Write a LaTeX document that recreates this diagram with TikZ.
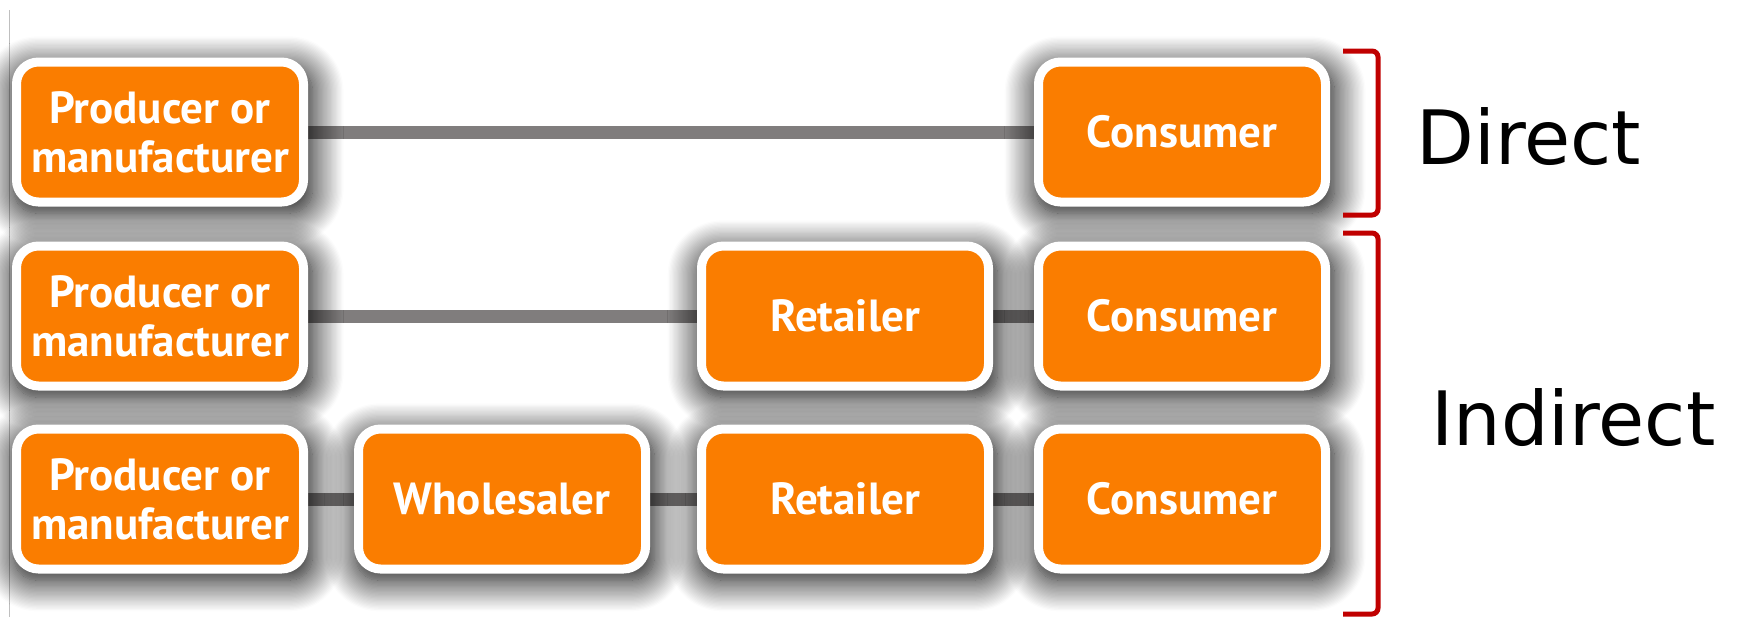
\documentclass[tikz,border=0pt]{standalone}
\usepackage{fontspec}
\newfontfamily\boxfont{PT Sans}
\newfontfamily\tagfont{DejaVu Sans}
\usetikzlibrary{positioning,shadows.blur}
\pgfdeclarelayer{back}
\pgfsetlayers{back,main}
\definecolor{chanorange}{RGB}{250,125,0}
\definecolor{linkgray}{RGB}{128,125,125}
\definecolor{brackred}{RGB}{192,0,0}
\tikzset{
  channel box/.style={
    rectangle, rounded corners=11pt, fill=chanorange, draw=white,
    line width=4.5pt, minimum width=143.5pt, minimum height=70pt,
    text=white, align=center, inner sep=0pt,
    font=\boxfont\bfseries\fontsize{22.5}{24.5}\selectfont,
    blur shadow={shadow xshift=1.5pt, shadow yshift=-4pt, shadow scale=1.04,
      shadow blur radius=15pt, shadow blur steps=25, shadow opacity=100,
      shadow blur extra rounding=4pt}
  },
  link/.style={draw=linkgray, line width=6.5pt},
  bracket/.style={draw=brackred, line width=2.5pt, rounded corners=3pt},
  channel label/.style={font=\tagfont\fontsize{37.5}{45}\selectfont,
    anchor=base west, inner sep=0pt}
}

\begin{document}
\begin{tikzpicture}[x=0.5pt,y=-0.5pt]
  \useasboundingbox (0,0) rectangle (1740,617);
  \draw[black!25, line width=0.5pt] (9,10) -- (9,617);

  % direct
  \node[channel box] (prodA) at (160,132) {Producer or\\manufacturer};
  \node[channel box] (consA) at (1182,132) {Consumer};

  % through a retailer
  \node[channel box, below=17.5pt of prodA] (prodB) {Producer or\\manufacturer};
  \node[channel box, below=17.5pt of consA] (consB) {Consumer};
  \node[channel box, left=20.5pt of consB] (retB) {Retailer};

  % through a wholesaler and a retailer
  \node[channel box, below=17pt of prodB] (prodC) {Producer or\\manufacturer};
  \node[channel box, right=23pt of prodC] (whole) {Wholesaler};
  \node[channel box, below=17pt of retB] (retC) {Retailer};
  \node[channel box, below=17pt of consB] (consC) {Consumer};

  \begin{pgfonlayer}{back}
    \draw[link] (prodA) -- (consA);
    \draw[link] (prodB) -- (retB);
    \draw[link] (retB) -- (consB);
    \draw[link] (prodC) -- (whole);
    \draw[link] (whole) -- (retC);
    \draw[link] (retC) -- (consC);
  \end{pgfonlayer}

  % brackets
  \draw[bracket] (1343,51) -- (1378,51) -- (1378,215) -- (1343,215);
  \draw[bracket] (1343,233) -- (1378,233) -- (1378,614) -- (1343,614);

  \node[channel label] (direct) at (1416,164) {Direct};
  \node[channel label] (indirect) at (1431,445) {Indirect};
\end{tikzpicture}
\end{document}
